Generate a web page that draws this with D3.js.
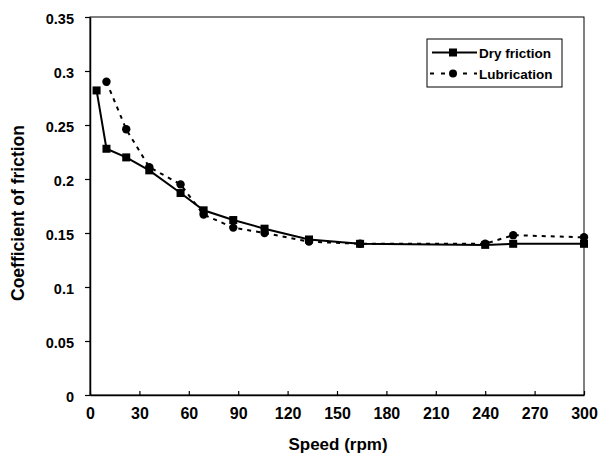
<!DOCTYPE html>
<html><head><meta charset="utf-8">
<script src="https://cdn.jsdelivr.net/npm/d3@7"></script>
<style>body{margin:0;background:#fff;} text{font-family:"Liberation Sans",Arial,sans-serif;font-weight:bold;fill:#000;}</style>
</head><body>
<svg id="c" width="602" height="455"></svg>
<script>
const drySpeed = [4, 10, 22, 36, 55, 69, 87, 106, 133, 164, 240, 257, 300];
const dryValues = [0.282, 0.228, 0.22, 0.208, 0.187, 0.171, 0.162, 0.154, 0.144, 0.14, 0.139, 0.14, 0.14];
const lubSpeed = [10, 22, 36, 55, 69, 87, 106, 133, 164, 240, 257, 300];
const lubValues = [0.29, 0.246, 0.211, 0.195, 0.167, 0.155, 0.15, 0.142, 0.14, 0.14, 0.148, 0.146];
const xTicks = [0, 30, 60, 90, 120, 150, 180, 210, 240, 270, 300];
const yTicks = [0, 0.05, 0.1, 0.15, 0.2, 0.25, 0.3, 0.35];
const seriesNames = ["Dry friction", "Lubrication"];

const svg = d3.select("#c");
const L = 90, R = 584, T = 17, B = 395;
const x = d3.scaleLinear().domain([0, 300]).range([L, R]);
const y = d3.scaleLinear().domain([0, 0.35]).range([B, T]);

// frame
svg.append("rect").attr("x", L).attr("y", T).attr("width", R - L).attr("height", B - T)
  .attr("fill", "none").attr("stroke", "#000").attr("stroke-width", 1);

// axes
const xAxis = svg.append("g").attr("transform", `translate(0,${B})`)
  .call(d3.axisBottom(x).tickValues(xTicks).tickSizeInner(-4).tickSizeOuter(0).tickFormat(d3.format("d")));
xAxis.selectAll("text").style("font-size", "16px").attr("y", 24).attr("dy", 0);
const yAxis = svg.append("g").attr("transform", `translate(${L},0)`)
  .call(d3.axisLeft(y).tickValues(yTicks).tickSize(5).tickSizeOuter(0).tickPadding(11).tickFormat(d => d === 0 ? "0" : String(+d.toFixed(2))));
yAxis.selectAll("text").style("font-size", "14.5px").attr("dy", "0.45em");
svg.selectAll(".domain").attr("stroke", "#000").attr("stroke-width", 1.5);
svg.selectAll(".tick line").attr("stroke", "#000").attr("stroke-width", 1.2);

// axis titles
svg.append("text").attr("x", 338).attr("y", 450).attr("text-anchor", "middle")
  .style("font-size", "17px").text("Speed (rpm)");
svg.append("text").attr("transform", `translate(24,213) rotate(-90)`).attr("text-anchor", "middle")
  .style("font-size", "17.5px").text("Coefficient of friction");

const line = d3.line().x(d => x(d[0])).y(d => y(d[1]));
const dry = drySpeed.map((s, i) => [s, dryValues[i]]);
const lub = lubSpeed.map((s, i) => [s, lubValues[i]]);

// lubrication (dashed, circles)
svg.append("path").datum(lub).attr("d", line).attr("fill", "none").attr("stroke", "#000")
  .attr("stroke-width", 2).attr("stroke-dasharray", "4,5");
svg.selectAll(".lc").data(lub).enter().append("circle").attr("cx", d => x(d[0])).attr("cy", d => y(d[1]))
  .attr("r", 4.2).attr("fill", "#000");

// dry (solid, squares)
svg.append("path").datum(dry).attr("d", line).attr("fill", "none").attr("stroke", "#000").attr("stroke-width", 2);
svg.selectAll(".ds").data(dry).enter().append("rect").attr("x", d => x(d[0]) - 4).attr("y", d => y(d[1]) - 4)
  .attr("width", 8).attr("height", 8).attr("fill", "#000");

// legend
const lg = svg.append("g");
lg.append("rect").attr("x", 427).attr("y", 39).attr("width", 135).attr("height", 48)
  .attr("fill", "#fff").attr("stroke", "#000").attr("stroke-width", 1);
const rows = [52.5, 73.5];
lg.append("line").attr("x1", 432).attr("x2", 477).attr("y1", rows[0]).attr("y2", rows[0]).attr("stroke", "#000").attr("stroke-width", 2);
lg.append("rect").attr("x", 449).attr("y", rows[0] - 4).attr("width", 8).attr("height", 8).attr("fill", "#000");
lg.append("line").attr("x1", 430).attr("x2", 477).attr("y1", rows[1]).attr("y2", rows[1]).attr("stroke", "#000").attr("stroke-width", 2).attr("stroke-dasharray", "4,7");
lg.append("circle").attr("cx", 453).attr("cy", rows[1]).attr("r", 4).attr("fill", "#000");
seriesNames.forEach((n, i) => {
  lg.append("text").attr("x", 479).attr("y", rows[i] + 5).style("font-size", "13.5px").text(n);
});
</script>
</body></html>
